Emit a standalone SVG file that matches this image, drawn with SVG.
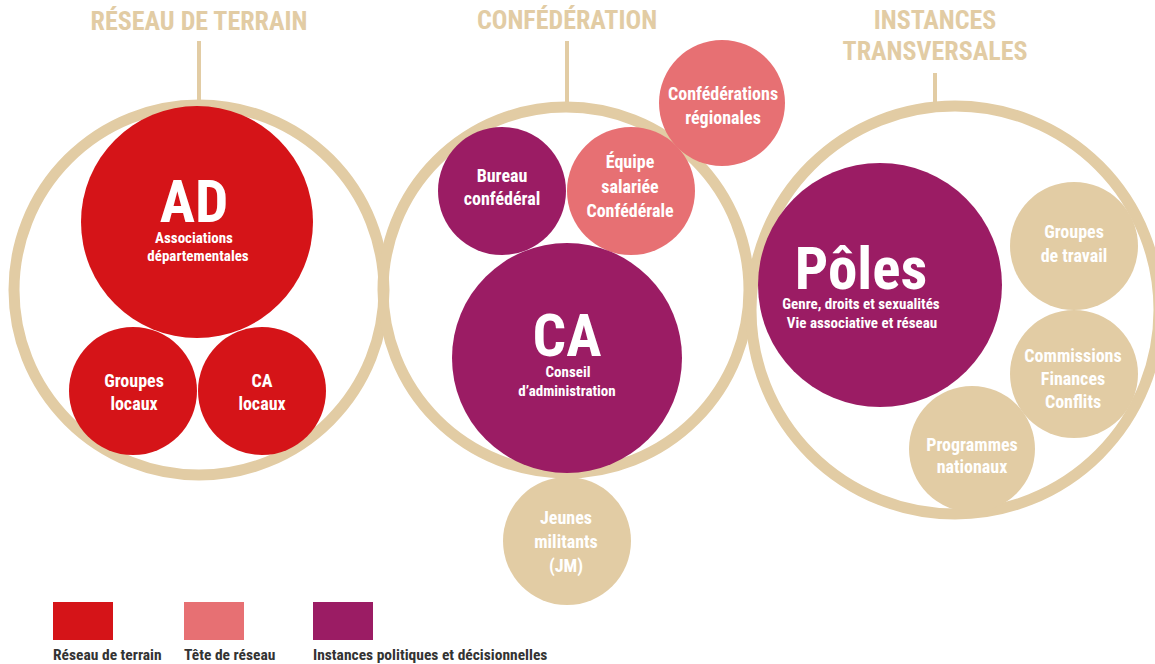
<svg xmlns="http://www.w3.org/2000/svg" width="1155" height="664" viewBox="0 0 1155 664">
<style>
text{font-family:"Liberation Sans Narrow","Roboto Condensed","DejaVu Sans Condensed","Liberation Sans",sans-serif;font-weight:bold;font-stretch:condensed;text-anchor:middle}
.ring{fill:none;stroke:#e2cca4;stroke-width:11}
.title{fill:#e2cca4;font-size:26px}
.lbl{fill:#fff;font-size:18px}
.sub{fill:#fff;font-size:15px}
.big{fill:#fff;font-size:59px}
.red{fill:#d51418}
.pink{fill:#e77073}
.purple{fill:#9b1c64}
.beige{fill:#e2cca4}
.legend{fill:#333;font-size:15.5px;text-anchor:start}
.conn{stroke:#e2cca4;stroke-width:4;fill:none}
</style>
<rect width="1155" height="664" fill="#fff"/>
<g id="connectors">
<line class="conn" x1="199" y1="41" x2="199" y2="102"/>
<line class="conn" x1="567" y1="41" x2="567" y2="104"/>
<line class="conn" x1="935" y1="73" x2="935" y2="102"/>
</g>
<g id="reseau-terrain">
<text class="title" x="199" y="30">RÉSEAU DE TERRAIN</text>
<circle class="ring" cx="199" cy="290" r="185"/>
</g>
<g id="confederation">
<text class="title" x="567" y="29">CONFÉDÉRATION</text>
<circle class="ring" cx="566" cy="290" r="183"/>
</g>
<g id="instances-transversales">
<text class="title" x="935" y="29">INSTANCES</text>
<text class="title" x="935" y="60">TRANSVERSALES</text>
<circle class="ring" cx="955" cy="310" r="204"/>
</g>
<g id="ad">
<circle class="red" cx="197" cy="222" r="116"/>
<text class="big" x="194" y="222">AD</text>
<text class="sub" x="194" y="243">Associations</text>
<text class="sub" x="198" y="261">départementales</text>
</g>
<g id="groupes-locaux">
<circle class="red" cx="133" cy="391" r="64"/>
<text class="lbl" x="134" y="387">Groupes</text>
<text class="lbl" x="134" y="410">locaux</text>
</g>
<g id="ca-locaux">
<circle class="red" cx="262" cy="391" r="64"/>
<text class="lbl" x="262" y="387">CA</text>
<text class="lbl" x="262" y="410">locaux</text>
</g>
<g id="bureau-confederal">
<circle class="purple" cx="502" cy="191" r="64"/>
<text class="lbl" x="502" y="182">Bureau</text>
<text class="lbl" x="502" y="205">confédéral</text>
</g>
<g id="equipe-salariee">
<circle class="pink" cx="631" cy="191" r="64"/>
<text class="lbl" x="630" y="168">Équipe</text>
<text class="lbl" x="630" y="193">salariée</text>
<text class="lbl" x="630" y="217">Confédérale</text>
</g>
<g id="confederations-regionales">
<circle class="pink" cx="722" cy="103" r="63"/>
<text class="lbl" x="723" y="100">Confédérations</text>
<text class="lbl" x="723" y="124">régionales</text>
</g>
<g id="ca">
<circle class="purple" cx="567" cy="358" r="115"/>
<text class="big" x="567" y="356">CA</text>
<text class="sub" x="568" y="377">Conseil</text>
<text class="sub" x="567" y="396">d’administration</text>
</g>
<g id="jeunes-militants">
<circle class="beige" cx="567" cy="541" r="64"/>
<text class="lbl" x="566" y="524">Jeunes</text>
<text class="lbl" x="566" y="548">militants</text>
<text class="lbl" x="566" y="572">(JM)</text>
</g>
<g id="poles">
<circle class="purple" cx="880" cy="285" r="122"/>
<text class="big" x="861" y="289">Pôles</text>
<text class="sub" x="861" y="309">Genre, droits et sexualités</text>
<text class="sub" x="862" y="328">Vie associative et réseau</text>
</g>
<g id="groupes-travail">
<circle class="beige" cx="1074" cy="246" r="64"/>
<text class="lbl" x="1074" y="238">Groupes</text>
<text class="lbl" x="1074" y="262">de travail</text>
</g>
<g id="commissions">
<circle class="beige" cx="1074" cy="374" r="64"/>
<text class="lbl" x="1073" y="362">Commissions</text>
<text class="lbl" x="1073" y="385">Finances</text>
<text class="lbl" x="1073" y="408">Conflits</text>
</g>
<g id="programmes-nationaux">
<circle class="beige" cx="972" cy="449" r="63"/>
<text class="lbl" x="972" y="451">Programmes</text>
<text class="lbl" x="972" y="473">nationaux</text>
</g>
<g id="legend">
<rect class="red" x="53" y="602" width="60" height="38"/>
<rect class="pink" x="184" y="602" width="60" height="38"/>
<rect class="purple" x="313" y="602" width="60" height="38"/>
<text class="legend" x="53" y="660">Réseau de terrain</text>
<text class="legend" x="184" y="660">Tête de réseau</text>
<text class="legend" x="313" y="660">Instances politiques et décisionnelles</text>
</g>
</svg>
